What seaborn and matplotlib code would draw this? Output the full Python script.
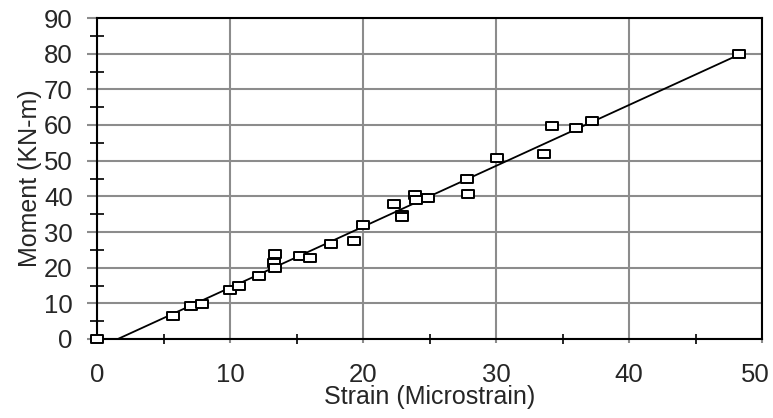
import numpy as np
import pandas as pd
import matplotlib
matplotlib.use("Agg")
import matplotlib.pyplot as plt
import seaborn as sns
from matplotlib.path import Path
from matplotlib.ticker import MultipleLocator, FuncFormatter

strain = [0.0, 5.7, 7.1, 7.9, 10.0, 10.7, 12.2, 13.3, 13.4, 13.4, 15.3, 16.0,
          17.6, 19.3, 20.0, 22.3, 22.9, 22.9, 23.9, 24.0, 24.9, 27.8, 27.9,
          30.1, 33.6, 34.2, 36.0, 37.2, 48.3]
moment = [0.0, 6.4, 9.2, 9.9, 13.6, 14.8, 17.7, 21.4, 23.9, 19.9, 23.3, 22.6,
          26.6, 27.6, 32.0, 37.9, 34.8, 34.2, 40.3, 39.1, 39.6, 44.8, 40.7,
          50.8, 51.8, 59.8, 59.1, 61.2, 80.0]

df = pd.DataFrame({"Strain": strain, "Moment": moment})

sns.set_theme(style="white")
plt.rcParams["font.family"] = ["Liberation Sans", "DejaVu Sans"]

fig = plt.figure(figsize=(7.73, 4.18), dpi=100)
ax = fig.add_axes([97/773, 1-339/418, (762-97)/773, (339-18)/418])

rect = Path([(-1, -0.65), (1, -0.65), (1, 0.65), (-1, 0.65), (-1, -0.65)],
            [Path.MOVETO, Path.LINETO, Path.LINETO, Path.LINETO, Path.CLOSEPOLY])

sns.regplot(data=df, x="Strain", y="Moment", ax=ax, scatter=False, ci=None,
            truncate=True, line_kws=dict(color="black", lw=1.3, zorder=3))
sns.scatterplot(data=df, x="Strain", y="Moment", ax=ax, marker=rect, s=70,
                facecolor="white", edgecolor="black", linewidth=1.4,
                zorder=4, clip_on=False)

XMAX = 50
ax.set_xlim(0, XMAX)
ax.set_ylim(0, 90)
ax.xaxis.set_major_locator(MultipleLocator(10))
ax.xaxis.set_minor_locator(MultipleLocator(5))
ax.yaxis.set_major_locator(MultipleLocator(10))
ax.yaxis.set_minor_locator(MultipleLocator(5))
# last x label is drawn separately so it stays inside the figure
ax.xaxis.set_major_formatter(FuncFormatter(lambda v, p: "" if abs(v - XMAX) < 1e-9 else f"{v:g}"))

ax.grid(True, which="major", color="#8c8c8c", lw=1.5)
ax.set_axisbelow(True)
ax.tick_params(which="major", axis="y", direction="out", length=7.5, width=1.5,
               color="#8c8c8c", labelsize=18.5, pad=10, left=True)
ax.tick_params(which="major", axis="x", direction="out", length=3, width=1.5,
               color="#8c8c8c", labelsize=18.5, pad=14, bottom=True)
ax.tick_params(which="minor", axis="y", direction="inout", length=10, width=1.2,
               color="black", left=True)
ax.tick_params(which="minor", axis="x", direction="inout", length=7, width=1.2,
               color="black", bottom=True)
for s in ax.spines.values():
    s.set_visible(True)
    s.set_color("black")
    s.set_linewidth(1.5)

ax.annotate(f"{XMAX:g}", xy=(XMAX, 0), xycoords="data", xytext=(-5, -17),
            textcoords="offset points", ha="center", va="top", fontsize=18.5,
            annotation_clip=False)

ax.set_xlabel("Strain (Microstrain)", fontsize=18, labelpad=-1)
ax.set_ylabel("Moment (KN-m)", fontsize=18, labelpad=1.5)

fig.savefig("out.png", dpi=100)
